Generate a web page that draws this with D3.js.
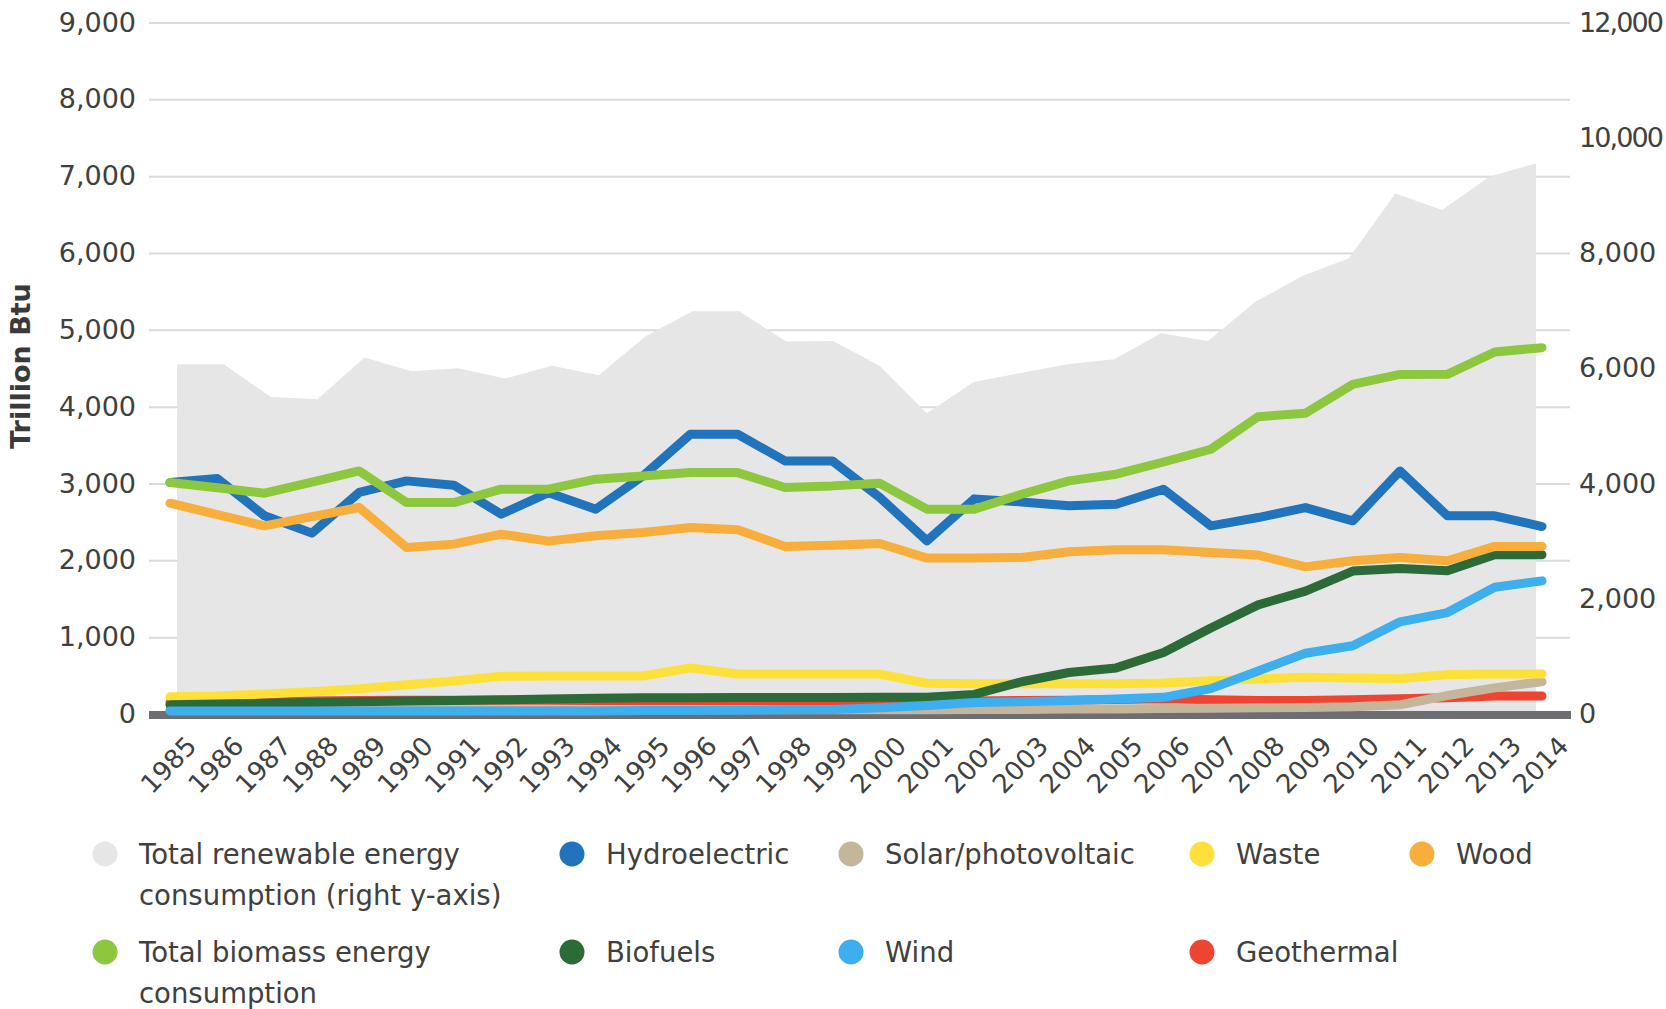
<!DOCTYPE html>
<html><head><meta charset="utf-8">
<script src="https://cdn.jsdelivr.net/npm/d3@7"></script>
<style>
html,body{margin:0;padding:0;background:#fff;}
svg{display:block;font-family:"DejaVu Sans",sans-serif;}
</style></head><body>
<svg id="chart" width="1666" height="1009"></svg>
<script>
// ---------- data ----------
const years = [1985,1986,1987,1988,1989,1990,1991,1992,1993,1994,1995,1996,1997,1998,1999,
               2000,2001,2002,2003,2004,2005,2006,2007,2008,2009,2010,2011,2012,2013,2014];
const totalRenewable = [6069,6069,5500,5462,6185,5948,6000,5821,6043,5878,6555,6988,6988,6463,6473,
                        6040,5219,5762,5917,6071,6156,6607,6473,7144,7595,7905,9034,8745,9324,9554];
const hydroelectric = [3013,3065,2579,2354,2883,3034,2978,2600,2880,2666,3100,3641,3641,3294,3294,
                       2820,2254,2800,2760,2709,2731,2926,2449,2557,2687,2514,3164,2579,2579,2440];
const biomass = [3013,2944,2874,3019,3164,2752,2752,2926,2926,3056,3099,3142,3142,2948,2969,
                 3004,2666,2666,2860,3034,3121,3280,3446,3870,3914,4291,4420,4421,4711,4768];
const wood = [2744,2596,2449,2568,2688,2167,2211,2341,2250,2319,2362,2428,2397,2181,2197,
              2220,2029,2029,2037,2111,2137,2137,2102,2068,1915,1994,2037,1994,2181,2181];
const waste = [225,235,260,290,330,380,430,490,495,495,495,600,520,520,520,
               520,400,395,395,395,395,403,433,455,477,468,460,515,520,520];
const biofuels = [120,130,140,150,160,170,175,185,195,205,210,212,214,215,216,
                  217,218,255,420,540,600,800,1120,1420,1600,1860,1895,1863,2072,2072];
const wind = [40,40,40,40,40,40,40,40,40,40,45,45,50,55,60,
              80,110,150,160,175,195,217,330,560,790,888,1200,1320,1650,1733];
const geothermal = [150,160,165,170,175,180,180,180,180,175,170,170,170,170,170,
                    170,170,170,175,180,190,200,185,175,175,185,200,210,235,235];
const solar = [55,55,55,55,55,55,55,55,55,55,55,55,55,55,55,
               55,55,60,60,65,65,70,75,80,85,95,120,240,340,420];

const leftTicks = [0,1000,2000,3000,4000,5000,6000,7000,8000,9000];
const rightTicks = [0,2000,4000,6000,8000,10000,12000];
const yAxisTitle = "Trillion Btu";

// drawing order bottom -> top
const lineNames = ["Geothermal","Solar/photovoltaic","Hydroelectric","Waste","Biofuels","Wind","Wood","Total biomass energy consumption"];
const lineValues = [geothermal, solar, hydroelectric, waste, biofuels, wind, wood, biomass];
const lineColors = ["#ee4431","#c4b59b","#2174bc","#fde13a","#2c6a38","#3daeee","#f7ae3d","#8dc63f"];

const legendLabels = [
  ["Total renewable energy","consumption (right y-axis)"],["Hydroelectric"],["Solar/photovoltaic"],["Waste"],["Wood"],
  ["Total biomass energy","consumption"],["Biofuels"],["Wind"],["Geothermal"]
];
const legendColors = ["#e6e6e6","#2174bc","#c4b59b","#fde13a","#f7ae3d","#8dc63f","#2c6a38","#3daeee","#ee4431"];

// ---------- layout ----------
const svg = d3.select("#chart");
const plotLeft = 149, plotRight = 1570, y0 = 714, yTop = 22.5;
const textColor = "#404040";

const xLine = d3.scalePoint().domain(years).range([170, 1542]);
const xArea = d3.scalePoint().domain(years).range([177, 1536]);
const yLeft = d3.scaleLinear().domain([0, 9000]).range([y0, yTop]);
const yRight = d3.scaleLinear().domain([0, 12000]).range([y0, yTop]);

// left axis + gridlines
const gL = svg.append("g").attr("transform", `translate(${plotLeft},0)`)
  .call(d3.axisLeft(yLeft).tickValues(leftTicks).tickFormat(d3.format(","))
        .tickSize(-(plotRight - plotLeft)).tickPadding(13));
gL.select(".domain").remove();
gL.selectAll(".tick line").attr("stroke", "#dadada").attr("stroke-width", 2);
gL.selectAll(".tick text").attr("fill", textColor).style("font-size", "27px")
  .style("font-family", "DejaVu Sans");

// right axis
const gR = svg.append("g").attr("transform", `translate(${plotRight},0)`)
  .call(d3.axisRight(yRight).tickValues(rightTicks).tickFormat(d3.format(","))
        .tickSize(0).tickPadding(9));
gR.select(".domain").remove();
gR.selectAll(".tick text").attr("fill", textColor).style("font-size", "27px")
  .style("font-family", "DejaVu Sans")
  .style("letter-spacing", d => d >= 10000 ? "-1.9px" : "0px");

// area (right axis)
svg.append("path")
  .datum(years.map((yr, i) => [yr, totalRenewable[i]]))
  .attr("fill", "#e6e6e6")
  .attr("d", d3.area().x(d => xArea(d[0])).y0(yRight(0)).y1(d => yRight(d[1])));

// baseline band
svg.append("rect").attr("x", plotLeft).attr("y", y0 - 3).attr("width", plotRight - plotLeft + 1)
  .attr("height", 8).attr("fill", "#6d6e71");

// lines
const lineGen = d3.line().x(d => xLine(d[0])).y(d => yLeft(d[1]));
lineValues.forEach((vals, k) => {
  svg.append("path")
    .datum(years.map((yr, i) => [yr, vals[i]]))
    .attr("fill", "none")
    .attr("stroke", lineColors[k])
    .attr("stroke-width", 9)
    .attr("stroke-linejoin", "round")
    .attr("stroke-linecap", "round")
    .attr("d", lineGen)
    .append("title").text(lineNames[k]);
});

// x axis labels
const gX = svg.append("g").attr("transform", `translate(0,${y0})`)
  .call(d3.axisBottom(xLine).tickSize(0));
gX.select(".domain").remove();
gX.selectAll(".tick text")
  .attr("x", 0).attr("y", 0).attr("dy", "0.35em")
  .attr("transform", "translate(21,27) rotate(-46)")
  .attr("text-anchor", "end")
  .attr("fill", textColor).style("font-size", "26px").style("font-family", "DejaVu Sans");

// y axis title
svg.append("text")
  .attr("transform", "translate(30,366) rotate(-90)")
  .attr("text-anchor", "middle")
  .attr("fill", "#3a3a3a")
  .style("font-size", "27px").style("font-weight", "bold")
  .text(yAxisTitle);

// legend
const colX = [105, 572, 851, 1202, 1422];
const rowY = [854, 952];
legendLabels.forEach((lines, i) => {
  const row = i < 5 ? 0 : 1;
  const col = i < 5 ? i : i - 5;
  const g = svg.append("g").attr("transform", `translate(${colX[col]},${rowY[row]})`);
  g.append("circle").attr("r", 12.5).attr("fill", legendColors[i]);
  const t = g.append("text").attr("x", 34).attr("y", 0).attr("fill", textColor)
    .style("font-size", "27.5px");
  lines.forEach((ln, j) => {
    t.append("tspan").attr("x", 34).attr("dy", j === 0 ? "0.36em" : "41px").text(ln);
  });
});
</script>
</body></html>
